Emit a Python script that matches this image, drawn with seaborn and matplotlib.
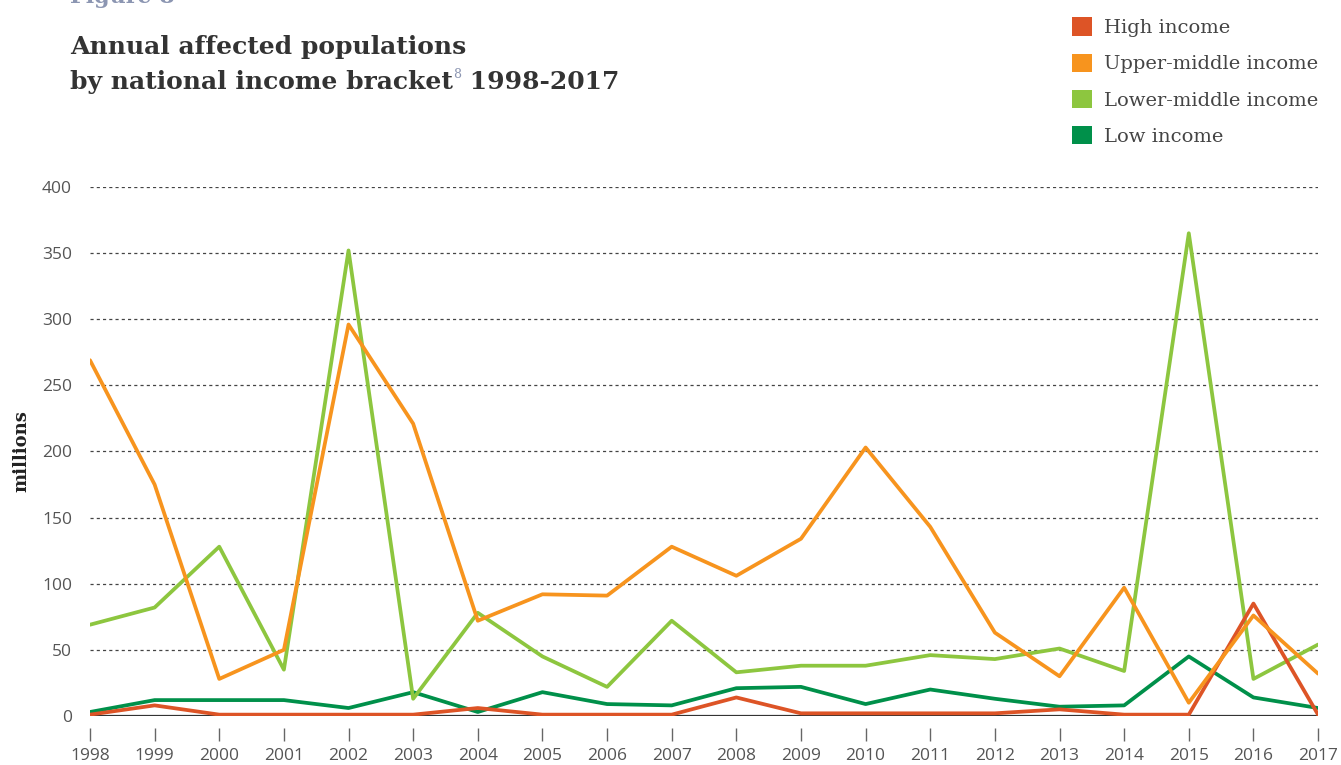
import matplotlib

matplotlib.use("Agg")
import matplotlib.pyplot as plt
import numpy as np
import pandas as pd
import seaborn as sns
from matplotlib.patches import Patch

years = list(range(1998, 2018))

high_income = [1, 8, 1, 1, 1, 1, 6, 1, 1, 1, 14, 2, 2, 2, 2, 5, 1, 1, 85, 1]
upper_middle = [269, 175, 28, 50, 296, 221, 72, 92, 91, 128, 106, 134, 203, 143, 63, 30, 97, 10, 76, 32]
lower_middle = [69, 82, 128, 35, 352, 13, 78, 45, 22, 72, 33, 38, 38, 46, 43, 51, 34, 365, 28, 54]
low_income = [3, 12, 12, 12, 6, 18, 3, 18, 9, 8, 21, 22, 9, 20, 13, 7, 8, 45, 14, 6]

legend_order = ["High income", "Upper-middle income", "Lower-middle income", "Low income"]
draw_order = ["Low income", "Lower-middle income", "High income", "Upper-middle income"]
palette = {
    "High income": "#DD5426",
    "Upper-middle income": "#F7941E",
    "Lower-middle income": "#8DC63F",
    "Low income": "#00904A",
}

y_ticks = [0, 50, 100, 150, 200, 250, 300, 350, 400]

series = {
    "High income": high_income,
    "Upper-middle income": upper_middle,
    "Lower-middle income": lower_middle,
    "Low income": low_income,
}
df = pd.DataFrame(
    [(y, name, v) for name, vals in series.items() for y, v in zip(years, vals)],
    columns=["year", "bracket", "value"],
)

sns.set_style("white")
plt.rcParams["font.family"] = ["Open Sans", "DejaVu Sans"]

fig = plt.figure(figsize=(13.41, 7.65), dpi=100)
ax = fig.add_axes([0.0671, 0.0641, 0.9158, 0.6915])

for y in y_ticks[1:]:
    ax.axhline(y, color="#444444", lw=0.9, ls=(0, (2.5, 2.5)), zorder=0)

sns.lineplot(
    data=df,
    x="year",
    y="value",
    hue="bracket",
    hue_order=draw_order,
    palette=palette,
    linewidth=2.7,
    legend=False,
    ax=ax,
)
ax.axhline(0, color="#333333", lw=1.6, zorder=1)

ax.set_xlim(1998, 2017)
ax.set_ylim(0, 400)
ax.set_xticks(years)
ax.set_yticks(y_ticks)
ax.set_xlabel("")
ax.set_ylabel("millions", family="DejaVu Serif", fontweight="bold", fontsize=13,
              color="#222222", labelpad=8)

for side in ["top", "right", "left"]:
    ax.spines[side].set_visible(False)
ax.spines["bottom"].set_position(("outward", 9))
ax.spines["bottom"].set_visible(False)

ax.tick_params(axis="x", direction="out", length=9, width=1, color="#666666",
               pad=5, labelsize=12.5, labelcolor="#555555", bottom=True)
ax.tick_params(axis="y", length=0, pad=13, labelsize=12.5, labelcolor="#555555")

# title block
fig.text(0.052, 1.004, "Figure 8", family="DejaVu Serif", fontweight="bold",
         fontsize=16, color="#8C96B2", va="center")
fig.text(0.052, 0.938, "Annual affected populations", family="DejaVu Serif",
         fontweight="bold", fontsize=18, color="#333333", va="center")
t1 = fig.text(0.052, 0.893, "by national income bracket", family="DejaVu Serif",
              fontweight="bold", fontsize=18, color="#333333", va="center")
fig.canvas.draw()
renderer = fig.canvas.get_renderer()
bb = t1.get_window_extent(renderer).transformed(fig.transFigure.inverted())
t2 = fig.text(bb.x1 + 0.0005, 0.903, "8", family="DejaVu Serif", fontsize=9,
              color="#8C96B2", va="center")
bb2 = t2.get_window_extent(renderer).transformed(fig.transFigure.inverted())
fig.text(bb2.x1, 0.893, " 1998-2017", family="DejaVu Serif",
         fontweight="bold", fontsize=18, color="#333333", va="center")

handles = [Patch(facecolor=palette[k], edgecolor="none") for k in legend_order]
fig.legend(
    handles,
    legend_order,
    loc="upper left",
    bbox_to_anchor=(0.786, 1.0),
    frameon=False,
    handlelength=1.05,
    handleheight=1.05,
    handletextpad=0.6,
    labelspacing=0.85,
    prop={"family": "DejaVu Serif", "size": 14},
    labelcolor="#444444",
)

fig.savefig("out.png", dpi=100)
